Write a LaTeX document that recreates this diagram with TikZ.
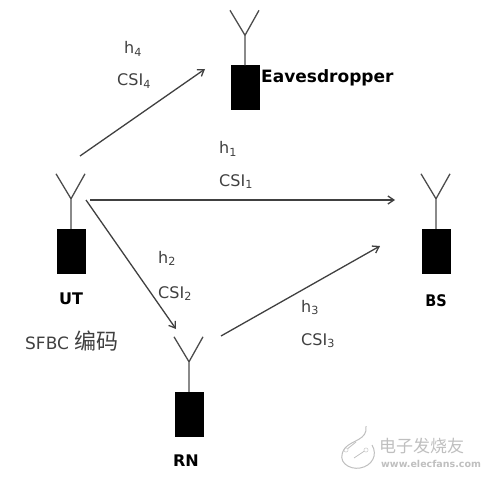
\documentclass[tikz,border=0pt]{standalone}
\usepackage{fontspec}
\setmainfont{DejaVu Sans}
\newfontfamily\cjk{Noto Sans CJK SC}
\usetikzlibrary{arrows.meta,positioning,calc}
\tikzset{
  unit/.style={draw=black, fill=black, minimum width=28pt, minimum height=44pt, inner sep=0pt},
  ant/.style={draw=black!70, line width=1.3pt},
  link/.style={draw=black!75, line width=1.3pt, -{Straight Barb[length=6pt,width=8pt]}},
  lab/.style={font=\fontsize{16}{18}\selectfont, text=black!75, inner sep=0pt, anchor=base west},
  tag/.style={font=\fontsize{16}{18}\selectfont\bfseries, inner sep=0pt, anchor=base},
  wm/.style={text=black!25, inner sep=0pt, anchor=base west}
}
\newcommand{\antenna}[1]{%
  \draw[ant] (#1.north) -- ++(0,-30) coordinate (#1v) -- ++(-15,-25);
  \draw[ant] (#1v) -- ++(14,-25);
}
\begin{document}
\begin{tikzpicture}[x=1pt,y=-1pt]
\useasboundingbox (0,0) rectangle (486,478);
\node[unit] (ut) at (71,251) {};
\node[unit] (ev) at (245,87.5) {};
\node[unit] (bs) at (436,251) {};
\node[unit] (rn) at (189,414) {};
\antenna{ut}
\antenna{ev}
\antenna{bs}
\antenna{rn}
% link end points
\coordinate (a1) at (80,156);
\coordinate (a2) at (205,69);
\coordinate (b1) at (90,200);
\coordinate (b2) at (395,200);
\coordinate (c1) at (86,200);
\coordinate (c2) at (176,329);
\coordinate (d1) at (221,336);
\coordinate (d2) at (380,246);
\draw[link] (a1) -- (a2);
\draw[link] (b1) -- (b2);
\draw[link] (c1) -- (c2);
\draw[link] (d1) -- (d2);
% labels
\node[lab] (h4) at (124,54) {h\textsubscript{4}};
\node[lab] (csi4) at (117,86) {CSI\textsubscript{4}};
\node[lab] (h1) at (219,154) {h\textsubscript{1}};
\node[lab] (csi1) at (219,186) {CSI\textsubscript{1}};
\node[lab] (h2) at (158,263) {h\textsubscript{2}};
\node[lab] (csi2) at (158,298) {CSI\textsubscript{2}};
\node[lab] (h3) at (301,312) {h\textsubscript{3}};
\node[lab] (csi3) at (301,345) {CSI\textsubscript{3}};
\node[lab] (sfbc) at (25,349) {\fontsize{17}{19}\selectfont SFBC {\cjk\fontsize{22}{24}\selectfont 编码}};
\node[tag, anchor=base west, font=\fontsize{17}{19}\selectfont\bfseries] (evt) at (261,83) {Eavesdropper};
\node[tag] (utt) at (71,304) {UT};
\node[tag, xscale=.9] (bst) at (436,306) {BS};
\node[tag] (rnt) at (186,466) {RN};
% watermark
\draw[black!25, line width=1pt] (366,426) .. controls (368,440) and (352,440) .. (345,448) .. controls (335,462) and (350,470) .. (360,468) .. controls (372,466) and (378,455) .. (372,445);
\node[draw=black!25, circle, inner sep=1.5pt] (w1) at (346,450) {};
\node[draw=black!25, circle, inner sep=1.5pt] (w2) at (366,450) {};
\draw[black!25, line width=.8pt] (w1) -- (356,442);
\draw[black!25, line width=.8pt] (w2) -- (354,458);
\node[wm, font=\cjk\fontsize{17}{19}\selectfont] (wa) at (379,452) {电子发烧友};
\node[wm, font=\fontsize{9.5}{11}\selectfont\bfseries] (wb) at (381,467) {www.elecfans.com};
\end{tikzpicture}
\end{document}
